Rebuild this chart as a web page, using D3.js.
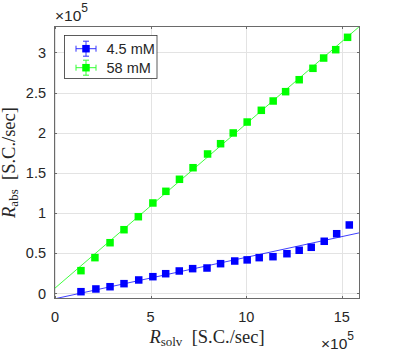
<!DOCTYPE html>
<html><head><meta charset="utf-8">
<script src="https://cdn.jsdelivr.net/npm/d3@7"></script>
<style>body{margin:0;background:#fff}svg{display:block}</style>
</head><body>
<script>
// x values in units of 1e5 S.C./sec
const xBlue = [1.36,2.14,2.88,3.61,4.38,5.12,5.79,6.50,7.20,7.95,8.66,9.40,10.05,10.68,11.40,12.13,12.77,13.40,14.08,14.73,15.39];
const yBlue = [0.021,0.055,0.083,0.121,0.167,0.208,0.245,0.279,0.308,0.316,0.370,0.403,0.417,0.445,0.457,0.494,0.537,0.574,0.649,0.743,0.852];
const xGreen = [1.36,2.09,2.88,3.61,4.36,5.12,5.80,6.51,7.22,7.98,8.66,9.32,10.05,10.79,11.41,12.06,12.77,13.49,14.05,14.68,15.30];
const yGreen = [0.283,0.445,0.631,0.793,0.955,1.126,1.271,1.421,1.565,1.736,1.864,1.998,2.134,2.280,2.396,2.512,2.661,2.803,2.931,3.035,3.189];
const seriesNames = ["4.5 mM","58 mM"];
const seriesColors = ["#0000ff","#00ff00"];
const fitSlope = [0.0516, 0.2047];
const fitIntercept = [-0.067, 0.065];
const xTicks = [0,5,10,15];
const yTicks = [0,0.5,1,1.5,2,2.5,3];
const yTickLabels = ["0","0.5","1","1.5","2","2.5","3"];

const W = 399, H = 354;
const L = 54, R = 360, T = 26, B = 299;
const x = d3.scaleLinear().domain([-0.05, 15.95]).range([L, R]);
const y = d3.scaleLinear().domain([-0.07, 3.33]).range([B, T]);

const svg = d3.select("body").append("svg").attr("width", W).attr("height", H);
svg.append("defs").append("clipPath").attr("id","clip")
  .append("rect").attr("x",L).attr("y",T).attr("width",R-L).attr("height",B-T);

// grid
const grid = svg.append("g").attr("stroke","#e3e3e3").attr("stroke-width",1);
xTicks.forEach(t => grid.append("line").attr("x1",Math.round(x(t))+0.5).attr("x2",Math.round(x(t))+0.5).attr("y1",T).attr("y2",B));
yTicks.forEach(t => grid.append("line").attr("y1",Math.round(y(t))+0.5).attr("y2",Math.round(y(t))+0.5).attr("x1",L).attr("x2",R));

// fit lines
const plot = svg.append("g").attr("clip-path","url(#clip)");
const xd = x.domain();
[0,1].forEach(i => {
  plot.append("line")
    .attr("x1", x(xd[0])).attr("y1", y(fitIntercept[i] + fitSlope[i]*xd[0]))
    .attr("x2", x(xd[1])).attr("y2", y(fitIntercept[i] + fitSlope[i]*xd[1]))
    .attr("stroke", seriesColors[i]).attr("stroke-width", 1).attr("opacity", 0.75);
});

// markers
const ms = 7.5;
[[xBlue,yBlue],[xGreen,yGreen]].forEach(([xs,ys], i) => {
  plot.selectAll(null).data(xs.map((v,k)=>[v,ys[k]])).enter().append("rect")
    .attr("x", d => x(d[0]) - ms/2).attr("y", d => y(d[1]) - ms/2)
    .attr("width", ms).attr("height", ms).attr("fill", seriesColors[i]);
});

// axes box and ticks
const axisColor = "#6a6a6a";
svg.append("rect").attr("x",L+0.5).attr("y",T+0.5).attr("width",R-L-1).attr("height",B-T-1)
  .attr("fill","none").attr("stroke",axisColor).attr("stroke-width",1);
const tk = svg.append("g").attr("stroke",axisColor).attr("stroke-width",1);
const tl = 3;
xTicks.forEach(t => {
  const px = Math.round(x(t))+0.5;
  tk.append("line").attr("x1",px).attr("x2",px).attr("y1",B).attr("y2",B-tl);
  tk.append("line").attr("x1",px).attr("x2",px).attr("y1",T).attr("y2",T+tl);
});
yTicks.forEach(t => {
  const py = Math.round(y(t))+0.5;
  tk.append("line").attr("y1",py).attr("y2",py).attr("x1",L).attr("x2",L+tl);
  tk.append("line").attr("y1",py).attr("y2",py).attr("x1",R).attr("x2",R-tl);
});

const sans = "'Liberation Sans', Arial, Helvetica, sans-serif";
const serif = "'Liberation Serif', 'Times New Roman', serif";
const txt = svg.append("g").attr("font-family", sans).attr("font-size", 14.5).attr("fill","#262626");
xTicks.forEach(t => txt.append("text").attr("x", x(t)).attr("y", 322).attr("text-anchor","middle").text(t));
yTicks.forEach((t,k) => txt.append("text").attr("x", 46).attr("y", y(t)).attr("dy","0.36em").attr("text-anchor","end").text(yTickLabels[k]));

// exponent labels
const e1 = txt.append("text").attr("x", 55).attr("y", 21).attr("font-size", 15.5);
e1.append("tspan").text("\u00d710");
e1.append("tspan").attr("font-size", 12).attr("dy", -9).text("5");
const e2 = txt.append("text").attr("x", 321).attr("y", 349).attr("font-size", 15.5);
e2.append("tspan").text("\u00d710");
e2.append("tspan").attr("font-size", 12).attr("dy", -9).text("5");

// axis labels
const xl = svg.append("text").attr("font-family", serif).attr("font-size", 18.5).attr("fill","#262626")
  .attr("x", (L+R)/2).attr("y", 343).attr("text-anchor","middle");
xl.append("tspan").attr("font-style","italic").text("R");
xl.append("tspan").attr("font-size", 13).attr("dy", 3).text("solv");
xl.append("tspan").attr("dy", -3).text("\u2002[S.C./sec]");

const yl = svg.append("text").attr("font-family", serif).attr("font-size", 18.5).attr("fill","#262626")
  .attr("transform", `translate(15,${(T+B)/2}) rotate(-90)`).attr("text-anchor","middle");
yl.append("tspan").attr("font-style","italic").text("R");
yl.append("tspan").attr("font-size", 13).attr("dy", 3).text("abs");
yl.append("tspan").attr("dy", -3).text("\u2002[S.C./sec]");

// legend
const lg = svg.append("g");
lg.append("rect").attr("x",64.5).attr("y",35.5).attr("width",92.5).attr("height",43)
  .attr("fill","#fff").attr("stroke","#333").attr("stroke-width",0.8);
const legY = [48.7, 67.7];
[0,1].forEach(i => {
  const cx = 86, cy = legY[i];
  const g = lg.append("g").attr("stroke", seriesColors[i]).attr("stroke-width",1).attr("opacity",0.8);
  g.append("line").attr("x1",cx-10).attr("x2",cx+10).attr("y1",cy).attr("y2",cy);
  g.append("line").attr("x1",cx-10).attr("x2",cx-10).attr("y1",cy-3).attr("y2",cy+3);
  g.append("line").attr("x1",cx+10).attr("x2",cx+10).attr("y1",cy-3).attr("y2",cy+3);
  g.append("line").attr("x1",cx).attr("x2",cx).attr("y1",cy-7.5).attr("y2",cy+7.5);
  g.append("line").attr("x1",cx-3).attr("x2",cx+3).attr("y1",cy-7.5).attr("y2",cy-7.5);
  g.append("line").attr("x1",cx-3).attr("x2",cx+3).attr("y1",cy+7.5).attr("y2",cy+7.5);
  lg.append("rect").attr("x",cx-ms/2).attr("y",cy-ms/2).attr("width",ms).attr("height",ms).attr("fill",seriesColors[i]);
  lg.append("text").attr("font-family",sans).attr("font-size",14.5).attr("fill","#262626")
    .attr("x",106.5).attr("y",cy).attr("dy","0.36em").text(seriesNames[i]);
});
</script>
</body></html>
